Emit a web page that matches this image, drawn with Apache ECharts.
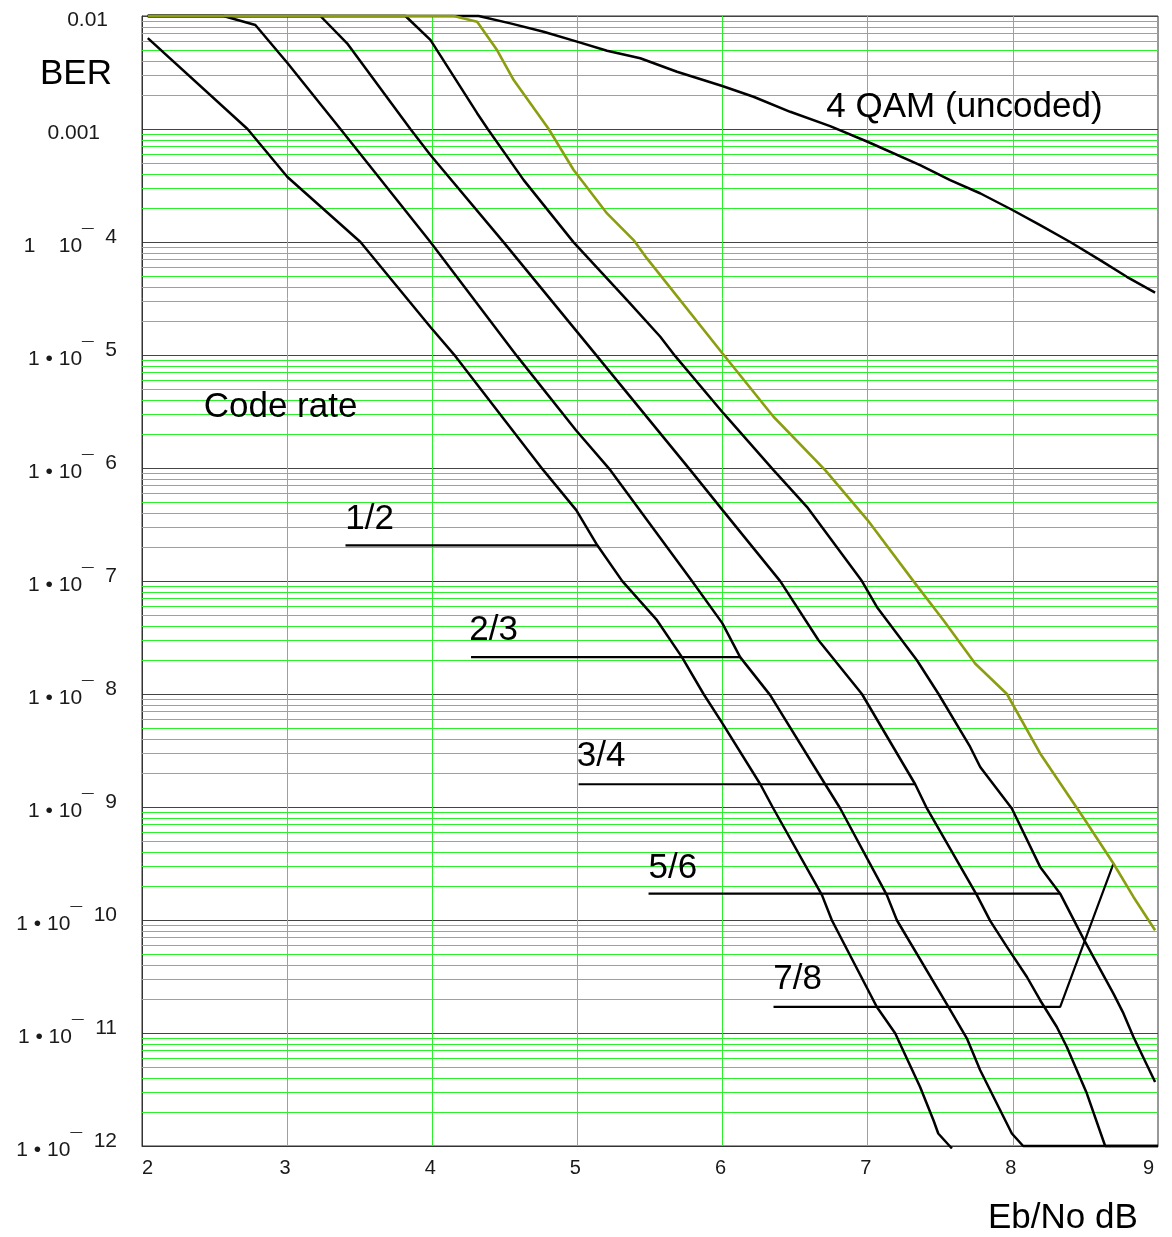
<!DOCTYPE html>
<html>
<head>
<meta charset="utf-8">
<script src="https://cdn.jsdelivr.net/npm/echarts@6.0.0/dist/echarts.min.js"></script>
<style>
  html, body { margin: 0; padding: 0; background: #ffffff; }
  #chart { width: 1172px; height: 1237px; }
</style>
</head>
<body>
<div id="chart"></div>
<script>
const FONT = "'Liberation Sans', Arial, Helvetica, sans-serif";

// Eb/No in dB against bit error rate, one list per code rate.
// Values above 1e-2 or below 1e-12 were held at the plot limits.
const rate12 = [
  [2.04, 6.38e-3], [2.727, 1.0e-3], [3.002, 3.76e-4], [3.505, 1.0e-4],
  [3.987, 1.77e-5], [4.159, 9.77e-6], [4.765, 9.57e-7], [4.992, 4.24e-7],
  [5.137, 2.07e-7], [5.309, 9.98e-8], [5.548, 4.50e-8], [5.720, 2.12e-8],
  [5.869, 1.0e-8], [5.998, 5.52e-9], [6.260, 1.59e-9], [6.349, 9.75e-10],
  [6.685, 1.66e-10], [6.753, 9.95e-11], [7.063, 1.70e-11], [7.189, 9.95e-12],
  [7.361, 3.33e-12], [7.453, 1.69e-12], [7.486, 1.29e-12], [7.580, 9.5e-13]
];
const rate23 = [
  [2.04, 1e-2], [2.561, 1e-2], [2.781, 8.32e-3], [3.002, 3.84e-3],
  [3.367, 1.0e-3], [3.987, 1.0e-4], [4.584, 9.77e-6], [4.990, 2.16e-6],
  [5.227, 9.57e-7], [5.789, 9.98e-8], [5.998, 4.24e-8], [6.121, 2.12e-8],
  [6.328, 9.77e-9], [6.707, 1.59e-9], [6.810, 9.75e-10], [7.132, 1.66e-10],
  [7.201, 9.95e-11], [7.556, 1.70e-11], [7.683, 8.97e-12], [7.775, 4.68e-12],
  [7.993, 1.29e-12], [8.071, 1e-12], [9.0, 1e-12]
];
const rate34 = [
  [2.04, 1e-2], [3.229, 1e-2], [3.413, 5.73e-3], [3.849, 1.0e-3],
  [3.987, 5.89e-4], [4.492, 9.93e-5], [5.135, 9.77e-6], [5.778, 9.57e-7],
  [6.000, 4.24e-7], [6.397, 9.98e-8], [6.661, 2.99e-8], [6.960, 1.0e-8],
  [7.327, 1.59e-9], [7.408, 9.70e-10], [7.752, 1.66e-10], [7.844, 9.82e-11],
  [7.959, 5.78e-11], [8.097, 3.13e-11], [8.188, 1.95e-11], [8.303, 1.13e-11],
  [8.372, 7.52e-12], [8.510, 2.91e-12], [8.636, 1e-12], [9.0, 1e-12]
];
const rate56 = [
  [2.04, 1e-2], [3.815, 1e-2], [3.987, 6.14e-3], [4.309, 1.38e-3],
  [4.382, 1.0e-3], [4.630, 3.53e-4], [4.974, 9.93e-5], [5.342, 3.06e-5],
  [5.571, 1.45e-5], [5.674, 9.77e-6], [6.007, 3.04e-6], [6.351, 9.57e-7],
  [6.581, 4.53e-7], [6.960, 9.98e-8], [7.063, 5.90e-8], [7.339, 1.99e-8],
  [7.488, 1.0e-8], [7.706, 3.40e-9], [7.775, 2.26e-9], [7.993, 9.70e-10],
  [8.188, 2.95e-10], [8.326, 1.71e-10], [8.486, 6.85e-11], [8.693, 2.23e-11],
  [8.762, 1.49e-11], [8.831, 9.23e-12], [8.980, 3.69e-12]
];
const rate78 = [
  [2.04, 1e-2], [4.147, 1e-2], [4.309, 8.91e-3], [4.446, 5.0e-3],
  [4.561, 2.71e-3], [4.802, 1.0e-3], [4.974, 4.34e-4], [5.204, 1.79e-4],
  [5.387, 1.04e-4], [5.479, 7.16e-5], [6.000, 1.03e-5], [6.351, 2.84e-6],
  [6.707, 9.57e-7], [6.999, 3.46e-7], [7.315, 9.98e-8], [7.522, 4.50e-8],
  [7.740, 1.86e-8], [7.959, 1.0e-8], [8.188, 2.98e-9], [8.498, 7.64e-10],
  [8.693, 3.16e-10], [8.831, 1.60e-10], [8.980, 8.11e-11]
];
const uncoded = [
  [2.04, 1e-2], [4.319, 1e-2], [4.538, 8.61e-3], [4.767, 7.26e-3],
  [4.997, 5.93e-3], [5.204, 4.93e-3], [5.433, 4.23e-3], [5.686, 3.21e-3],
  [5.998, 2.40e-3], [6.213, 1.93e-3], [6.466, 1.42e-3], [6.741, 1.06e-3],
  [6.999, 7.71e-4], [7.361, 4.80e-4], [7.568, 3.53e-4], [7.774, 2.70e-4],
  [7.997, 1.92e-4], [8.188, 1.41e-4], [8.395, 1.0e-4], [8.601, 6.92e-5],
  [8.785, 4.92e-5], [8.980, 3.56e-5]
];

// Pointer lines from each code-rate label to its curve
const pointer12 = [[3.402, 2.07e-7], [5.137, 2.07e-7]];
const pointer23 = [[4.267, 2.12e-8], [6.121, 2.12e-8]];
const pointer34 = [[5.008, 1.59e-9], [7.327, 1.59e-9]];
const pointer56 = [[5.490, 1.71e-10], [8.326, 1.71e-10]];
const pointer78 = [[6.351, 1.70e-11], [8.326, 1.70e-11], [8.693, 3.16e-10]];

// Text placed in data space (left edge, vertical centre)
const noteText = ['1/2', '2/3', '3/4', '5/6', '7/8', 'Code rate', '4 QAM (uncoded)'];
const noteX    = [3.40, 4.255, 4.995, 5.49, 6.35, 2.425, 6.715];
const noteY    = [3.49e-7, 3.67e-8, 2.79e-9, 2.87e-10, 2.99e-11, 3.42e-6, 1.56e-3];

// Axis range and tick marks
const xTicks = [2, 3, 4, 5, 6, 7, 8, 9];
const yMin = 1e-12, yMax = 1e-2;
const xTitle = 'Eb/No dB';
const yTitle = 'BER';

const GREEN = '#2cf02c';
const OLIVE = '#8c9e10';
const INK = '#000000';
const TICK_INK = '#1a1a1a';

// Log minor grid: 2..9 times each decade
const minorLevels = [];
for (let e = -12; e < -2; e++) {
  for (let k = 2; k <= 9; k++) minorLevels.push(k * Math.pow(10, e));
}

function yLabel(v) {
  const e = Math.round(Math.log10(v));
  if (e === -2) return '{d1|0.01}';
  if (e === -3) return '{d2|0.001}';
  if (e === -4) return '{b|1    10}{s|\u00AF  4}';
  return '{b|1 \u2022 10}{s|\u00AF  ' + (-e) + '}';
}

function curve(name, data, color, width) {
  return {
    type: 'line', name: name, data: data,
    showSymbol: false, symbol: 'none', smooth: false, clip: false,
    lineStyle: { color: color, width: width }, silent: true, z: 4
  };
}

const chart = echarts.init(document.getElementById('chart'), null, { renderer: 'canvas' });

const tickText = { fontSize: 21, color: TICK_INK, fontFamily: FONT, lineHeight: 30 };

const option = {
  animation: false,
  backgroundColor: '#ffffff',
  grid: {
    left: 142, right: 14, top: 16, bottom: 91,
    show: true, borderColor: '#333', borderWidth: 1, backgroundColor: 'transparent'
  },
  xAxis: {
    type: 'value', min: xTicks[0], max: xTicks[xTicks.length - 1], interval: 1,
    axisLine: { show: true, lineStyle: { color: '#333', width: 1 } },
    axisTick: { show: false },
    axisLabel: {
      fontSize: 20, color: TICK_INK, fontFamily: FONT, margin: 12,
      alignMinLabel: 'left', alignMaxLabel: 'right', padding: [0, 4, 0, 0]
    },
    splitLine: { show: true, showMinLine: false, showMaxLine: false, lineStyle: { color: GREEN, width: 1 } }
  },
  yAxis: {
    type: 'log', logBase: 10, min: yMin, max: yMax, splitNumber: 10,
    axisLine: { show: true, lineStyle: { color: '#333', width: 1 } },
    axisTick: { show: false },
    axisLabel: {
      margin: 25, align: 'right', formatter: yLabel,
      rich: {
        b:  Object.assign({ verticalAlign: 'bottom' }, tickText),
        s:  Object.assign({ verticalAlign: 'top' }, tickText),
        d1: Object.assign({ verticalAlign: 'bottom', padding: [0, 9, 0, 0] }, tickText),
        d2: Object.assign({ verticalAlign: 'bottom', padding: [0, 17, 0, 0] }, tickText)
      }
    },
    splitLine: { show: true, showMinLine: false, showMaxLine: false, lineStyle: { color: '#444', width: 1 } }
  },
  graphic: [
    { type: 'text', x: 40, y: 74, silent: true,
      style: { text: yTitle, fill: INK, font: '35px ' + FONT, align: 'left', verticalAlign: 'middle' } },
    { type: 'text', x: 988, y: 1218, silent: true,
      style: { text: xTitle, fill: INK, font: '35px ' + FONT, align: 'left', verticalAlign: 'middle' } }
  ],
  series: [
    {
      type: 'lines', name: 'minor-grid', coordinateSystem: 'cartesian2d',
      silent: true, z: 1, polyline: false,
      lineStyle: { color: GREEN, width: 1, opacity: 1, curveness: 0 },
      effect: { show: false },
      data: minorLevels.map(v => ({ coords: [[xTicks[0], v], [xTicks[xTicks.length - 1], v]] }))
    },
    curve('4 QAM', uncoded, '#000', 2.5),
    curve('1/2', rate12, '#000', 2.5),
    curve('2/3', rate23, '#000', 2.5),
    curve('3/4', rate34, '#000', 2.5),
    curve('5/6', rate56, '#000', 2.5),
    curve('p12', pointer12, '#000', 2.2),
    curve('p23', pointer23, '#000', 2.2),
    curve('p34', pointer34, '#000', 2.2),
    curve('p56', pointer56, '#000', 2.2),
    curve('p78', pointer78, '#000', 2.2),
    curve('7/8', rate78, OLIVE, 2.6),
    {
      type: 'scatter', name: 'notes', silent: true, z: 6,
      symbolSize: 0, itemStyle: { color: INK, opacity: 1 },
      data: noteText.map((t, i) => ({ name: t, value: [noteX[i], noteY[i]] })),
      label: {
        show: true, position: 'right', distance: 0, formatter: '{b}',
        fontSize: 35, color: INK, opacity: 1, fontFamily: FONT
      }
    }
  ]
};

chart.setOption(option);
</script>
</body>
</html>
